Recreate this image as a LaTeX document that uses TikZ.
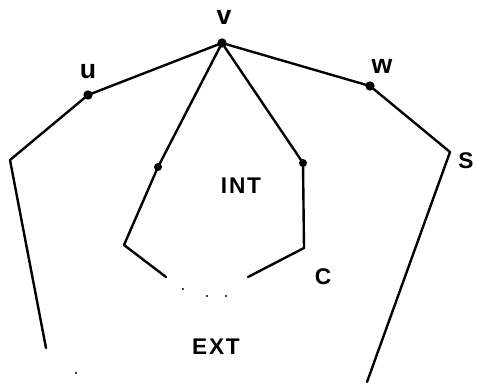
\documentclass[tikz,border=0pt]{standalone}
\usepackage{fontspec}
\setmainfont{Liberation Sans}
\begin{document}
\begin{tikzpicture}[x=0.75pt,y=-0.75pt,
  edge/.style={line width=1.8pt,line join=round,line cap=round},
  vdot/.style={circle,fill=black,inner sep=0pt,minimum size=7pt},
  lower/.style={font=\bfseries\fontsize{20}{22}\selectfont,inner sep=0pt},
  upper/.style={font=\bfseries\fontsize{17}{19}\selectfont\addfontfeature{LetterSpace=8},inner sep=0pt},
  speck/.style={circle,fill=black,inner sep=0pt,minimum size=1.8pt}]
\useasboundingbox (0,0) rectangle (477,385);
% vertices
\coordinate (v) at (222,43);
\coordinate (u) at (88,95);
\coordinate (w) at (370,86);
\coordinate (lc) at (10,160);
\coordinate (lb) at (46,348);
\coordinate (rc) at (450,152);
\coordinate (rb) at (367,382);
\coordinate (a1) at (158,167);
\coordinate (a2) at (124,245);
\coordinate (a3) at (166,277);
\coordinate (b1) at (303,163);
\coordinate (b2) at (304,248);
\coordinate (b3) at (248,277);
% edges
\draw[edge] (lb) -- (lc) -- (u) -- (v) -- (w) -- (rc) -- (rb);
\draw[edge] (v) -- (a1) -- (a2) -- (a3);
\draw[edge] (v) -- (b1) -- (b2) -- (b3);
% dots
\node[vdot] (dv) at (v) {};
\node[vdot] (du) at (u) {};
\node[vdot] (dw) at (w) {};
\node[vdot,minimum size=6pt] (da1) at (a1) {};
\node[vdot,minimum size=6pt] (db1) at (b1) {};
% ellipsis dots
\node[speck] (e1) at (183,289) {};
\node[speck] (e2) at (207,296) {};
\node[speck] (e3) at (226,296) {};
\node[speck] (e4) at (76,373) {};
% labels
\node[lower] (lv) at (224,17) {v};
\node[lower] (lu) at (88,72) {u};
\node[lower] (lw) at (382,66) {w};
\node[upper] (ls) at (466,161) {S};
\node[upper] (lint) at (241,186) {INT};
\node[upper] (lcc) at (323,277) {C};
\node[upper] (lext) at (216,347) {EXT};
\end{tikzpicture}
\end{document}
